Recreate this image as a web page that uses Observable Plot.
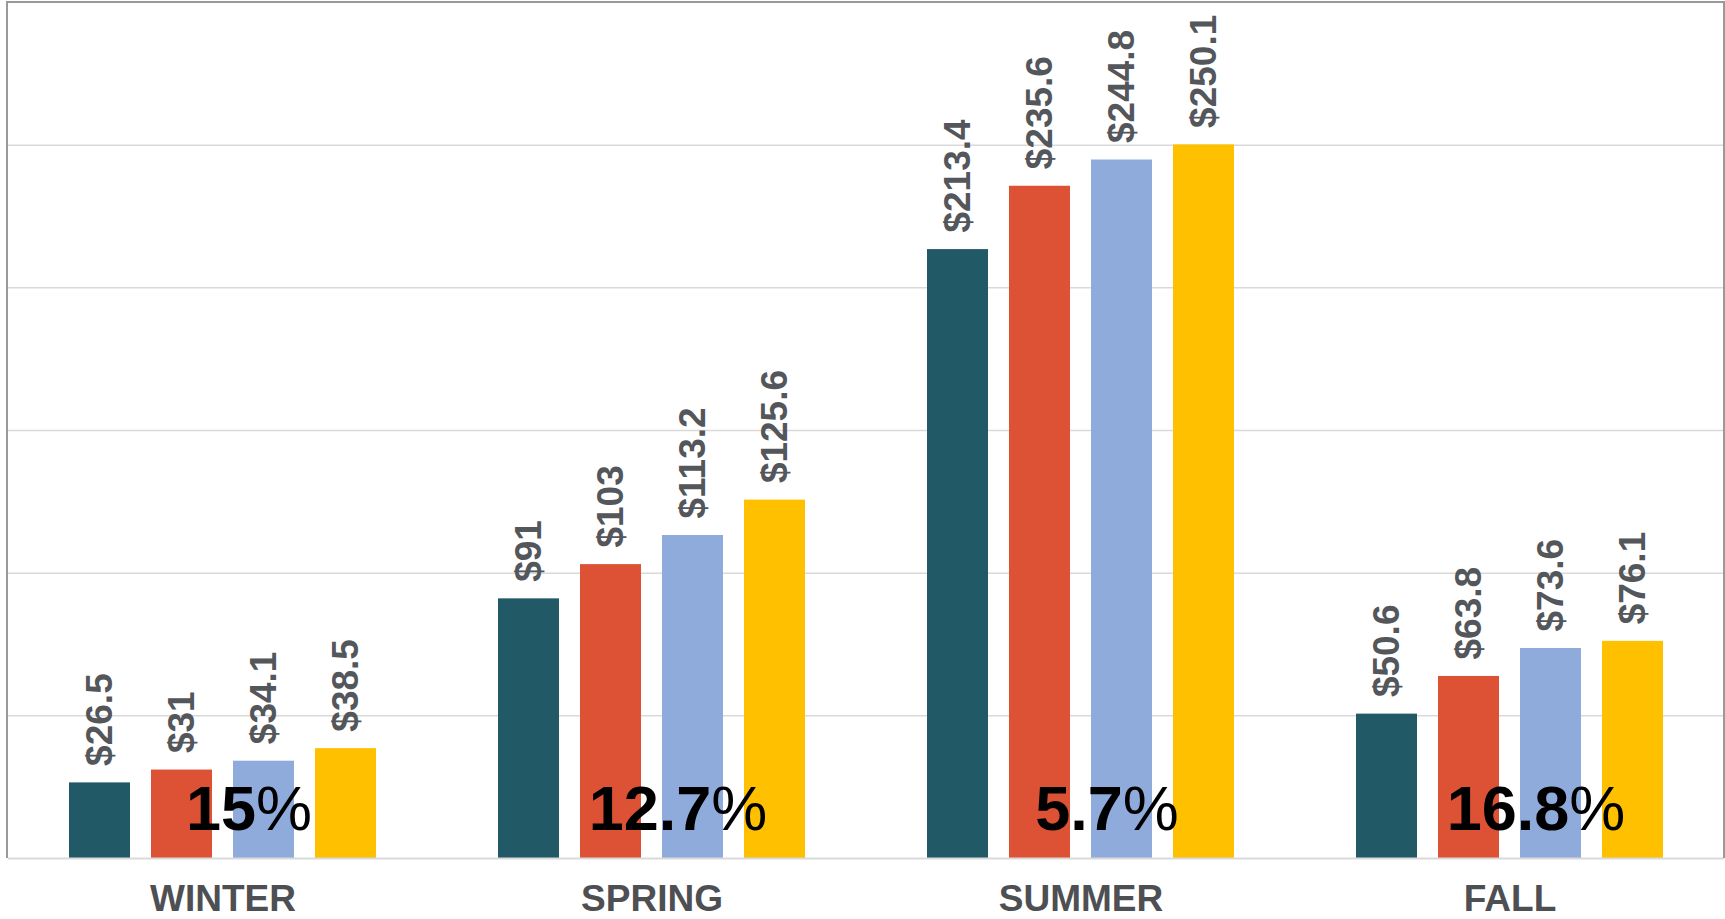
<!DOCTYPE html>
<html><head><meta charset="utf-8">
<script src="https://cdn.jsdelivr.net/npm/d3@7"></script>
<script src="https://cdn.jsdelivr.net/npm/@observablehq/plot@0.6"></script>
<style>
body{margin:0;background:#fff;font-family:"Liberation Sans",Arial,sans-serif}
#chart svg{display:block}
</style>
</head><body><div id="chart"></div>
<script>
const seasons = ["WINTER", "SPRING", "SUMMER", "FALL"];
const seriesNames = ["Series 1", "Series 2", "Series 3", "Series 4"];
const winterValues = [26.5, 31, 34.1, 38.5];
const springValues = [91, 103, 113.2, 125.6];
const summerValues = [213.4, 235.6, 244.8, 250.1];
const fallValues = [50.6, 63.8, 73.6, 76.1];
const growthLabels = ["15%", "12.7%", "5.7%", "16.8%"];
const seriesColors = ["#225966", "#DD5135", "#8FABDC", "#FFC000"];
const gridTicks = [50, 100, 150, 200, 250];

const valuesBySeason = [winterValues, springValues, summerValues, fallValues];
const data = seasons.flatMap((s, i) => valuesBySeason[i].map((v, j) => ({season: s, series: seriesNames[j], value: v})));
const growth = seasons.map((s, i) => ({season: s, label: growthLabels[i]}));

const W = 1725, H = 919;
const chart = Plot.plot({
  width: W, height: H,
  marginLeft: 7, marginRight: 1, marginTop: 2, marginBottom: 61,
  style: {fontFamily: "'Liberation Sans', Arial, sans-serif", background: "#fff"},
  fx: {domain: seasons, padding: 0, axis: null},
  x: {domain: seriesNames, paddingInner: 0.26, paddingOuter: 0.735, axis: null},
  y: {domain: [0, 300], axis: null},
  color: {domain: seriesNames, range: seriesColors},
  marks: [
    Plot.ruleY(gridTicks, {stroke: "#d9d9d9", strokeWidth: 1.5}),
    Plot.barY(data, {fx: "season", x: "series", y: "value", fill: "series"}),
    Plot.ruleY([0], {stroke: "#d9d9d9", strokeWidth: 2}),
    Plot.text(data, {
      fx: "season", x: "series", y: "value",
      text: d => "$" + d.value,
      rotate: -90, textAnchor: "start", dy: -17,
      fontSize: 37, fontWeight: "bold", fill: "#53565A"
    }),
    Plot.text(growth, {
      fx: "season", text: "label", frameAnchor: "bottom", lineAnchor: "bottom",
      dy: -29, dx: 26, fontSize: 63, fill: "#000"
    }),
    Plot.text(seasons, {
      fx: d => d, text: d => d, frameAnchor: "bottom", lineAnchor: "bottom",
      dy: 52, fontSize: 37, fontWeight: "bold", fill: "#4D4F53"
    })
  ]
});

// split growth labels: bold number + regular percent sign
d3.select(chart).selectAll("text").each(function() {
  const t = d3.select(this);
  const s = t.text();
  if (!growthLabels.includes(s)) return;
  const num = s.replace("%", "");
  t.text(null);
  t.append("tspan").style("font-weight", "bold").text(num);
  t.append("tspan").style("font-weight", "normal").text("%");
});

// outer border (top, left, right) of the plot area
const ys = chart.scale("y");
const y0 = ys.apply(0), y1 = ys.apply(300);
d3.select(chart).append("path")
  .attr("d", `M7,${y0}V${y1}H${W - 1}V${y0}`)
  .attr("fill", "none").attr("stroke", "#999").attr("stroke-width", 2);

document.getElementById("chart").appendChild(chart);
</script>
</body></html>
